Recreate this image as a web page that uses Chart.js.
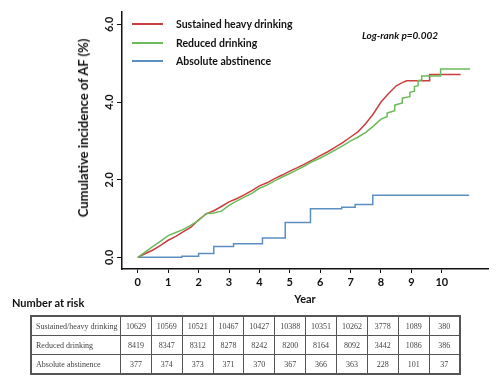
<!DOCTYPE html>
<html>
<head>
<meta charset="utf-8">
<script src="https://cdn.jsdelivr.net/npm/chart.js@4"></script>
<style>
  body { margin: 0; background: #fff; }
  #wrap { position: relative; width: 500px; height: 390px; font-family: Lato, "DejaVu Sans", sans-serif; }
  #chart { position: absolute; left: 0; top: 0; }
  .ytitle { position: absolute; left: 83px; top: 128px; transform: translate(-50%, -50%) rotate(-90deg);
    white-space: nowrap; font-weight: 700; font-size: 13px; color: #111; }
  .legend { position: absolute; left: 132px; top: 16px; font-weight: 700; font-size: 10.5px; color: #111; }
  .legend div { height: 18.5px; line-height: 16px; position: relative; padding-left: 44px; }
  .legend span { position: absolute; left: 0; top: 7px; width: 31px; height: 2px; }
  .logrank { position: absolute; left: 362px; top: 29px; font-weight: 700; font-style: italic; font-size: 10px; color: #111; }
  .risk { position: absolute; left: 12px; top: 296px; font-weight: 700; font-size: 11px; color: #111; }
  table { position: absolute; left: 30px; top: 315px; width: 431px; border-collapse: collapse; font-family: "Liberation Serif", serif;
    font-size: 8px; color: #444; border: 2px solid #555; table-layout: fixed; }
  td { border: 1.5px solid #555; height: 18px; text-align: center; padding: 0; }
  td.name { width: 84px; text-align: left; padding-left: 4px; }
</style>
</head>
<body>
<div id="wrap">
  <canvas id="chart" width="500" height="310"></canvas>
  <div class="ytitle">Cumulative incidence of AF (%)</div>
  <div class="legend">
    <div><span style="background:#cc3e3e"></span>Sustained heavy drinking</div>
    <div><span style="background:#6cbb5a"></span>Reduced drinking</div>
    <div><span style="background:#5b8fc0"></span>Absolute abstinence</div>
  </div>
  <div class="logrank">Log-rank p=0.002</div>
  <div class="risk">Number at risk</div>
  <table id="riskTable"></table>
</div>
<script>
// Curve data (year, cumulative incidence %)
const heavyYears = [0, 0.25, 0.5, 0.75, 1, 1.25, 1.5, 1.75, 2, 2.25, 2.5, 2.75, 3, 3.25, 3.5, 3.75, 4, 4.25, 4.5, 4.75,
  5, 5.25, 5.5, 5.75, 6, 6.25, 6.5, 6.75, 7, 7.25, 7.5, 7.75, 8, 8.25, 8.5, 8.7, 8.84, 9.6, 9.6, 10.62];
const heavyAF = [0, 0.1, 0.19, 0.31, 0.44, 0.54, 0.66, 0.78, 0.97, 1.12, 1.2, 1.31, 1.43, 1.51, 1.61, 1.72, 1.84, 1.92, 2.03, 2.12,
  2.22, 2.31, 2.41, 2.51, 2.62, 2.72, 2.84, 2.96, 3.1, 3.24, 3.45, 3.7, 4.0, 4.22, 4.42, 4.5, 4.55, 4.55, 4.71, 4.71];

const reducedYears = [0, 0.25, 0.5, 0.75, 1, 1.25, 1.5, 1.75, 2, 2.25, 2.5, 2.75, 3, 3.25, 3.5, 3.75, 4, 4.25, 4.5, 4.75,
  5, 5.25, 5.5, 5.75, 6, 6.25, 6.5, 6.75, 7, 7.25, 7.5, 7.75, 8, 8.2, 8.2, 8.45, 8.45, 8.7, 8.7, 8.95, 8.95, 9.1, 9.1,
  9.22, 9.22, 9.34, 9.34, 9.96, 9.96, 10.93];
const reducedAF = [0, 0.14, 0.28, 0.42, 0.56, 0.64, 0.72, 0.83, 0.95, 1.13, 1.14, 1.19, 1.34, 1.45, 1.55, 1.65, 1.78, 1.86, 1.97, 2.07,
  2.16, 2.26, 2.36, 2.47, 2.56, 2.66, 2.77, 2.88, 3.0, 3.1, 3.22, 3.38, 3.56, 3.62, 3.72, 3.78, 3.92, 3.98, 4.1, 4.14, 4.25, 4.28, 4.4,
  4.42, 4.55, 4.57, 4.67, 4.67, 4.85, 4.85];

const abstYears = [0, 1.45, 2.0, 2.5, 3.15, 4.1, 4.85, 5.68, 6.71, 7.15, 7.73, 10.9];
const abstAF = [0, 0.03, 0.1, 0.28, 0.35, 0.5, 0.9, 1.25, 1.29, 1.36, 1.6, 1.6];

const xTicks = [0, 1, 2, 3, 4, 5, 6, 7, 8, 9, 10];
const yTicks = [0, 2, 4, 6];

// Number at risk table
const riskGroups = ['Sustained/heavy drinking', 'Reduced drinking', 'Absolute abstinence'];
const riskHeavy = [10629, 10569, 10521, 10467, 10427, 10388, 10351, 10262, 3778, 1089, 380];
const riskReduced = [8419, 8347, 8312, 8278, 8242, 8200, 8164, 8092, 3442, 1086, 386];
const riskAbst = [377, 374, 373, 371, 370, 367, 366, 363, 228, 101, 37];

const table = document.getElementById('riskTable');
[riskHeavy, riskReduced, riskAbst].forEach((row, i) => {
  table.innerHTML += `<tr><td class="name">${riskGroups[i]}</td>${row.map(v => `<td>${v}</td>`).join('')}</tr>`;
});

function toPoints(xs, ys) {
  return xs.map((x, i) => ({ x: x, y: ys[i] }));
}

const tickFont = { family: 'Lato', weight: 'bold', size: 11 };

new Chart(document.getElementById('chart'), {
  type: 'line',
  data: {
    datasets: [
      { label: 'Reduced drinking', data: toPoints(reducedYears, reducedAF), borderColor: '#6cbb5a' },
      { label: 'Sustained heavy drinking', data: toPoints(heavyYears, heavyAF), borderColor: '#cc3e3e' },
      { label: 'Absolute abstinence', data: toPoints(abstYears, abstAF), borderColor: '#5b8fc0', stepped: true }
    ]
  },
  options: {
    responsive: false,
    animation: false,
    datasets: { line: { borderWidth: 1.5, pointRadius: 0, fill: false, tension: 0 } },
    layout: { padding: { left: 0, right: 12, top: 12, bottom: 0 } },
    plugins: { legend: { display: false }, tooltip: { enabled: false } },
    scales: {
      x: {
        type: 'linear', min: -0.52, max: 11.52,
        afterBuildTicks: axis => { axis.ticks = xTicks.map(v => ({ value: v })); },
        afterFit: axis => { axis.height = 41; },
        grid: { drawOnChartArea: false, tickLength: 4, color: '#111' },
        border: { color: '#111', width: 1.5 },
        ticks: { color: '#111', font: tickFont, padding: 3, maxRotation: 0 },
        title: { display: true, text: 'Year', color: '#111', font: { family: 'Lato', weight: 'bold', size: 11 },
          padding: { top: 0, bottom: 4 } }
      },
      y: {
        type: 'linear', min: -0.3, max: 6.32,
        afterBuildTicks: axis => { axis.ticks = yTicks.map(v => ({ value: v })); },
        afterFit: axis => { axis.width = 122; },
        grid: { drawOnChartArea: false, tickLength: 5, color: '#111' },
        border: { color: '#111', width: 1.5 },
        ticks: { color: '#111', font: tickFont, padding: 0, minRotation: 90, maxRotation: 90, crossAlign: 'center',
          callback: v => v.toFixed(1) }
      }
    }
  }
});
</script>
</body>
</html>
